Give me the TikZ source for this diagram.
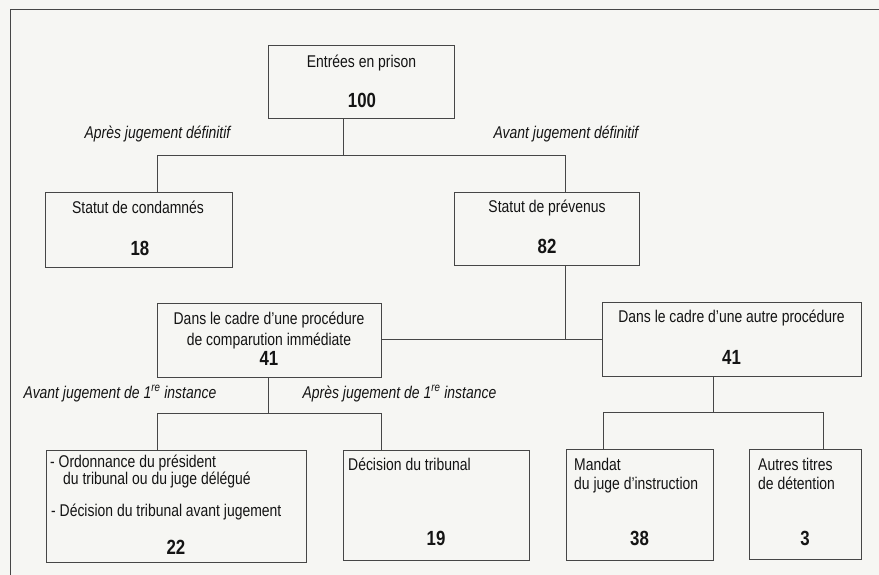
\documentclass[tikz,border=0pt]{standalone}
\usepackage{fontspec}
\setmainfont{Liberation Sans}[FakeStretch=0.82]
\usetikzlibrary{calc}
\definecolor{bg}{RGB}{246,246,243}
\definecolor{ln}{RGB}{70,70,70}
\definecolor{tx}{RGB}{20,20,20}
\begin{document}
\begin{tikzpicture}[x=1pt,y=-1pt,
  box/.style={draw=ln, line width=1pt, inner sep=0pt, outer sep=0pt},
  conn/.style={draw=ln, line width=1pt},
  txt/.style={inner sep=0pt, anchor=base, text=tx, font=\fontsize{17}{20}\selectfont},
  txtl/.style={txt, anchor=base west},
  num/.style={inner sep=0pt, anchor=base, text=tx, font=\fontsize{20.5}{23}\selectfont\bfseries},
  lbl/.style={txt, font=\fontsize{17}{20}\selectfont\itshape}]
\fill[bg] (0,0) rectangle (879,575);
\useasboundingbox (0,0) rectangle (879,575);
% frame
\coordinate (fa) at (10,575);
\coordinate (fb) at (10,10);
\coordinate (fc) at (879,10);
\draw[conn] (fa) -- (fb) -- (fc);
% boxes
\node[box, minimum width=186pt, minimum height=73pt] (entree) at (361,82.5) {};
\node[box, minimum width=187pt, minimum height=74pt] (cond) at (138.5,230) {};
\node[box, minimum width=185pt, minimum height=72pt] (prev) at (546.5,229) {};
\node[box, minimum width=224pt, minimum height=74pt] (ci) at (269,340) {};
\node[box, minimum width=259pt, minimum height=74pt] (autre) at (731.5,339) {};
\node[box, minimum width=260pt, minimum height=112pt] (ord) at (176,506) {};
\node[box, minimum width=186pt, minimum height=110pt] (dec) at (436,505) {};
\node[box, minimum width=147pt, minimum height=111pt] (mand) at (639.5,504.5) {};
\node[box, minimum width=112pt, minimum height=110pt] (autres) at (805,504) {};
% connectors
\coordinate (j1) at (343,156);
\coordinate (h1l) at (157,156);
\coordinate (h1r) at (565,156);
\draw[conn] (entree.south -| j1) -- (j1);
\draw[conn] (cond.north -| h1l) -- (h1l) -- (h1r) -- (prev.north -| h1r);
\coordinate (h2) at (565,339);
\draw[conn] (prev.south -| h2) -- (h2);
\draw[conn] (ci.east |- h2) -- (autre.west |- h2);
\coordinate (h3) at (268,413);
\coordinate (h3l) at (157,413);
\coordinate (h3r) at (381,413);
\draw[conn] (ci.south -| h3) -- (h3);
\draw[conn] (ord.north -| h3l) -- (h3l) -- (h3r) -- (dec.north -| h3r);
\coordinate (h4) at (713,412);
\coordinate (h4l) at (603,412);
\coordinate (h4r) at (823,412);
\draw[conn] (autre.south -| h4) -- (h4);
\draw[conn] (mand.north -| h4l) -- (h4l) -- (h4r) -- (autres.north -| h4r);
% texts
\node[txt] (t1) at (361.5,68) {Entrées en prison};
\node[num] (n1) at (362,108) {100};
\node[txt] (t2) at (138,214) {Statut de condamnés};
\node[num] (n2) at (140,255) {18};
\node[txt] (t3) at (547,212) {Statut de prévenus};
\node[num] (n3) at (547,254) {82};
\node[lbl] (l1) at (157.5,139) {Après jugement définitif};
\node[lbl] (l2) at (566,139) {Avant jugement définitif};
\node[txt] (t4) at (269,324) {Dans le cadre d’une procédure};
\node[txt] (t5) at (269,345) {de comparution immédiate};
\node[num] (n4) at (269,365) {41};
\node[txt] (t6) at (731.5,322) {Dans le cadre d’une autre procédure};
\node[num] (n5) at (731.5,364) {41};
\node[lbl] (l3) at (120,398) {Avant jugement de 1\textsuperscript{re} instance};
\node[lbl] (l4) at (399.5,398) {Après jugement de 1\textsuperscript{re} instance};
\node[txtl] (o1) at (50,467) {- Ordonnance du président};
\node[txtl] (o2) at (63,484) {du tribunal ou du juge délégué};
\node[txtl] (o3) at (51,516) {- Décision du tribunal avant jugement};
\node[num] (n6) at (176,554) {22};
\node[txtl] (d1) at (348,470) {Décision du tribunal};
\node[num] (n7) at (436,545) {19};
\node[txtl] (m1) at (574,470) {Mandat};
\node[txtl] (m2) at (574,489.5) {du juge d’instruction};
\node[num] (n8) at (639.5,545) {38};
\node[txtl] (a1) at (758,470) {Autres titres};
\node[txtl] (a2) at (758,489.5) {de détention};
\node[num] (n9) at (805,545) {3};
\end{tikzpicture}
\end{document}
